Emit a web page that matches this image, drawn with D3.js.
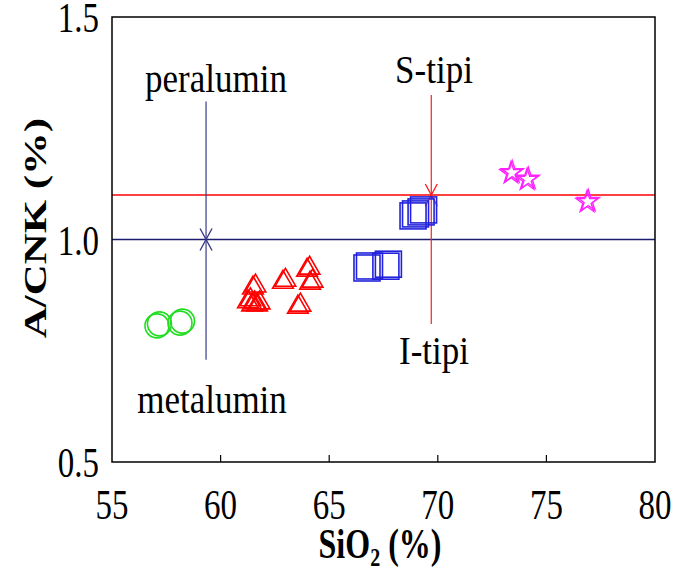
<!DOCTYPE html>
<html>
<head>
<meta charset="utf-8">
<script src="https://cdn.jsdelivr.net/npm/d3@7"></script>
<style>
  body { margin: 0; background: #fff; }
  text { font-family: "Liberation Serif", "Times New Roman", serif; }
</style>
</head>
<body>
<svg id="chart" width="679" height="570"></svg>
<script>
// data
var circles = [[57.07, 0.806], [58.13, 0.812]];
var triangles = [[61.49, 0.891], [61.26, 0.860], [61.45, 0.853], [61.68, 0.853],
                 [62.87, 0.904], [63.98, 0.931], [64.12, 0.902], [63.56, 0.848]];
var squares = [[66.74, 0.936], [67.61, 0.940], [68.86, 1.053], [69.23, 1.062]];
var stars = [[73.37, 1.149], [74.11, 1.134], [76.87, 1.084]];
var xTicks = [55, 60, 65, 70, 75, 80];
var yTicks = [0.5, 1.0, 1.5];
var hLines = [{ y: 1.0, color: "#1c1c6e" }, { y: 1.1, color: "#ff0000" }];
var vLines = [
  { x: 59.33, y0: 0.73, y1: 1.31, cross: 1.0, color: "#3a3a8c", top: "peralumin", bottom: "metalumin" },
  { x: 69.7, y0: 0.81, y1: 1.325, cross: 1.1, color: "#ff2020", top: "S-tipi", bottom: "I-tipi" }
];

var svg = d3.select("#chart");
var pL = 112, pR = 655, pT = 17, pB = 462;

var x = d3.scaleLinear().domain([55, 80]).range([pL, pR]);
var y = d3.scaleLinear().domain([0.5, 1.5]).range([pB, pT]);

// the original picture is stretched a bit in height, text too
function tr(px, py, s){ return "translate(" + px + "," + py + ") scale(1," + s + ")"; }

// reference lines
svg.selectAll(".hline").data(hLines).enter().append("line")
  .attr("x1", pL).attr("x2", pR)
  .attr("y1", d => y(d.y)).attr("y2", d => y(d.y))
  .attr("stroke", d => d.color).attr("stroke-width", 1.6);

svg.selectAll(".vline").data(vLines).enter().append("line")
  .attr("x1", d => x(d.x)).attr("x2", d => x(d.x))
  .attr("y1", d => y(d.y0)).attr("y2", d => y(d.y1))
  .attr("stroke", d => d.color).attr("stroke-width", 1.2);

// X cross markers at the intersections
vLines.forEach(function(d){
  var cx = x(d.x), cy = y(d.cross);
  svg.append("path")
    .attr("d", "M" + (cx-6) + "," + (cy-11) + "L" + (cx+6) + "," + (cy+11) +
               "M" + (cx+6) + "," + (cy-11) + "L" + (cx-6) + "," + (cy+11))
    .attr("stroke", d.color).attr("stroke-width", 1.4).attr("fill", "none");
});

// labels
svg.selectAll(".toplab").data(vLines).enter().append("text")
  .attr("transform", (d, i) => i == 0 ? tr(216, 92, 1.12) : tr(434, 83, 1.12))
  .attr("text-anchor", "middle").attr("font-size", 35)
  .text(d => d.top);
svg.selectAll(".botlab").data(vLines).enter().append("text")
  .attr("transform", (d, i) => i == 0 ? tr(212, 413, 1.12) : tr(434, 364, 1.12))
  .attr("text-anchor", "middle").attr("font-size", 35)
  .text(d => d.bottom);

// markers, each one drawn twice with a small shift like the original
var shifts = [[0, 0], [2.5, -2]];

shifts.forEach(function(s){
  svg.append("g").selectAll("circle").data(circles).enter().append("circle")
    .attr("cx", d => x(d[0]) + s[0]).attr("cy", d => y(d[1]) + s[1]).attr("r", 12)
    .attr("fill", "none").attr("stroke", "#22dd22").attr("stroke-width", 1.6);

  svg.append("g").selectAll("path").data(triangles).enter().append("path")
    .attr("d", d3.symbol().type(d3.symbolTriangle).size(185))
    .attr("transform", d => "translate(" + (x(d[0]) + s[0]) + "," + (y(d[1]) + s[1]) + ")")
    .attr("fill", "none").attr("stroke", "#ff0000").attr("stroke-width", 1.6);

  svg.append("g").selectAll("rect").data(squares).enter().append("rect")
    .attr("x", d => x(d[0]) - 13 + s[0]).attr("y", d => y(d[1]) - 13 + s[1])
    .attr("width", 26).attr("height", 26)
    .attr("fill", "none").attr("stroke", "#2222dd").attr("stroke-width", 1.6);

  svg.append("g").selectAll("path").data(stars).enter().append("path")
    .attr("d", d3.symbol().type(d3.symbolStar).size(150))
    .attr("transform", d => "translate(" + (x(d[0]) + s[0] * 0.5) + "," + (y(d[1]) + s[1] * 0.5) + ")")
    .attr("fill", "none").attr("stroke", "#ff22ff").attr("stroke-width", 1.4);
});

// frame
svg.append("rect")
  .attr("x", pL).attr("y", pT).attr("width", pR - pL).attr("height", pB - pT)
  .attr("fill", "none").attr("stroke", "#000").attr("stroke-width", 1.5);

// ticks pointing inward
svg.selectAll(".xt").data(xTicks.slice(1, -1)).enter().append("line")
  .attr("x1", d => x(d)).attr("x2", d => x(d))
  .attr("y1", pB).attr("y2", pB - 7)
  .attr("stroke", "#000").attr("stroke-width", 1.2);

svg.selectAll(".xl").data(xTicks).enter().append("text")
  .attr("transform", d => tr(x(d), 519, 1.3))
  .attr("text-anchor", "middle").attr("font-size", 33)
  .text(d => d);

svg.selectAll(".yl").data(yTicks).enter().append("text")
  .attr("transform", d => tr(99, y(d) + 15, 1.3))
  .attr("text-anchor", "end").attr("font-size", 33)
  .text(d => d.toFixed(1));

// axis titles
var xt = svg.append("text").attr("transform", tr(380, 558, 1.3))
  .attr("text-anchor", "middle").attr("font-size", 32).attr("font-weight", "bold");
xt.append("tspan").text("SiO");
xt.append("tspan").attr("font-size", 20).attr("dy", 6).text("2");
xt.append("tspan").attr("dy", -6).text(" (%)");

svg.append("text")
  .attr("transform", "translate(46,228) scale(1,1.34) rotate(-90)")
  .attr("text-anchor", "middle").attr("font-size", 32).attr("font-weight", "bold")
  .text("A/CNK (%)");
</script>
</body>
</html>
